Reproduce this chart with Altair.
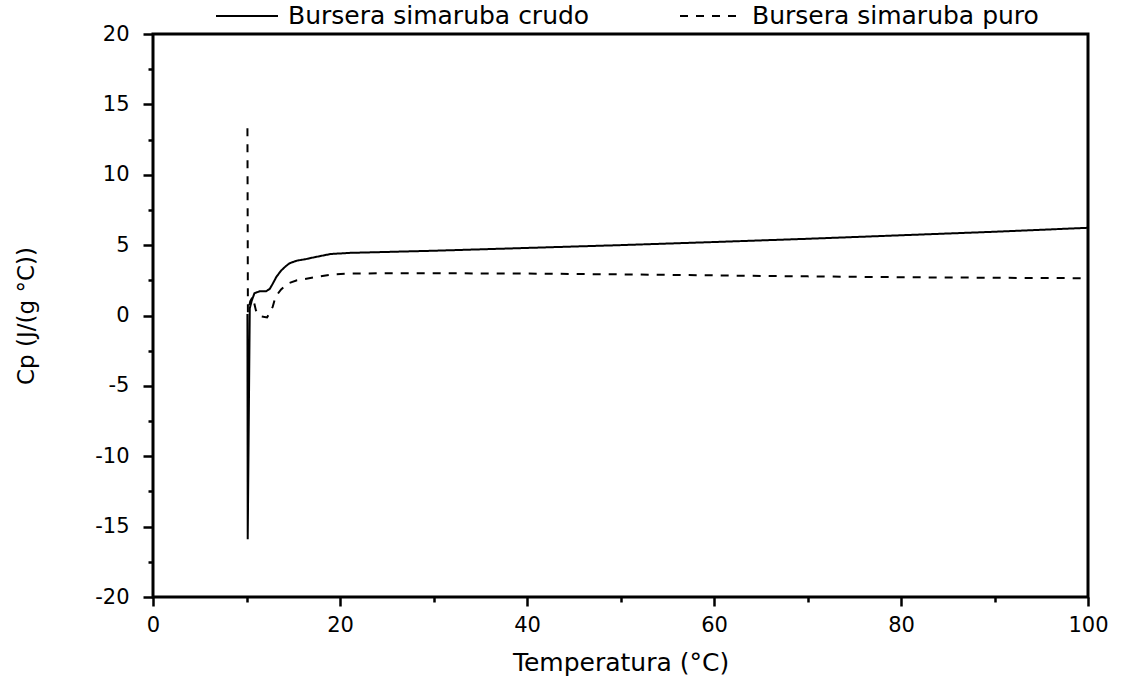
import altair as alt
import pandas as pd

# --- data ---
crudo_x = [10.10, 10.13, 10.35, 10.56, 10.85, 11.4, 12.1, 12.5, 12.8, 13.2, 13.7, 14.2,
           14.6, 15.4, 16.3, 17.2, 19.0, 21.1, 30, 40, 50, 60, 70, 80, 90, 100]
crudo_y = [0.1, -15.9, 0.5, 1.06, 1.58, 1.72, 1.72, 1.9, 2.25, 2.75, 3.19, 3.5,
           3.71, 3.9, 4.0, 4.13, 4.37, 4.45, 4.6, 4.8, 5.0, 5.22, 5.45, 5.7, 5.95, 6.23]

puro_x = [10.10, 10.15, 10.4, 10.67, 11.0, 11.45, 12.2, 12.8, 13.1, 13.7, 14.4, 15.4,
          17.6, 19.4, 21.2, 25, 30, 40, 50, 60, 70, 80, 90, 100]
puro_y = [13.3, 0.2, 1.0, 1.33, 0.38, -0.05, -0.14, 0.61, 1.33, 1.85, 2.27, 2.5,
          2.75, 2.93, 2.98, 3.0, 3.0, 2.98, 2.92, 2.85, 2.78, 2.72, 2.68, 2.65]

series_names = ["Bursera simaruba crudo", "Bursera simaruba puro"]

x_ticks = [0, 10, 20, 30, 40, 50, 60, 70, 80, 90, 100]
y_ticks = [-20, -17.5, -15, -12.5, -10, -7.5, -5, -2.5, 0, 2.5, 5, 7.5, 10, 12.5, 15, 17.5, 20]

rows = []
for i, (x, y) in enumerate(zip(crudo_x, crudo_y)):
    rows.append({"T": x, "Cp": y, "serie": series_names[0], "i": i})
for i, (x, y) in enumerate(zip(puro_x, puro_y)):
    rows.append({"T": x, "Cp": y, "serie": series_names[1], "i": i})
df = pd.DataFrame(rows)

FONT = "DejaVu Sans"

x_axis = alt.Axis(
    values=x_ticks,
    labelExpr="datum.value % 20 === 0 ? toString(datum.value) : ''",
    tickSize={"condition": {"test": "datum.value % 20 === 0", "value": 9}, "value": 5},
    tickWidth=2.5, tickColor="black",
    labelPadding=8, labelFlush=False, labelFontSize=21, labelColor="black",
    labelFont=FONT,
    grid=False, domain=False,
    title="Temperatura (°C)", titleFontSize=25, titleFont=FONT,
    titleFontWeight="normal", titleColor="black",
    titleBaseline="alphabetic", titleY=73,
)
y_axis = alt.Axis(
    values=y_ticks,
    labelExpr="datum.value % 5 === 0 ? toString(datum.value) : ''",
    tickSize={"condition": {"test": "datum.value % 5 === 0", "value": 10}, "value": 5},
    tickWidth=2.5, tickColor="black",
    labelPadding=14, labelFlush=False, labelFontSize=21, labelColor="black",
    labelFont=FONT,
    grid=False, domain=False,
    title="Cp (J/(g °C))", titleFontSize=23, titleFont=FONT,
    titleFontWeight="normal", titleColor="black",
    titleBaseline="alphabetic", titleX=-120,
)

chart = alt.Chart(df).mark_line(color="black", strokeWidth=2, clip=True).encode(
    x=alt.X("T:Q", scale=alt.Scale(domain=[0, 100], nice=False, zero=False), axis=x_axis),
    y=alt.Y("Cp:Q", scale=alt.Scale(domain=[-20, 20], nice=False, zero=False), axis=y_axis),
    strokeDash=alt.StrokeDash(
        "serie:N",
        scale=alt.Scale(domain=series_names, range=[[1, 0], [8, 8]]),
        legend=alt.Legend(
            title=None, orient="none", direction="horizontal",
            legendX=62, legendY=-50,
            symbolType="stroke", symbolSize=3844, symbolStrokeWidth=2,
            symbolStrokeColor="black",
            labelFontSize=25, labelFont=FONT, labelColor="black", labelLimit=0,
            labelOffset=9, columnPadding=86, padding=0,
        ),
    ),
    order="i:Q",
).properties(
    width=935, height=563,
    autosize=alt.AutoSizeParams(type="none"),
    padding={"left": 153, "top": 34, "right": 35, "bottom": 80},
    background="white",
).configure_view(
    stroke="black", strokeWidth=3
)

chart.save("out.html", embed_options={"renderer": "svg", "actions": False})
